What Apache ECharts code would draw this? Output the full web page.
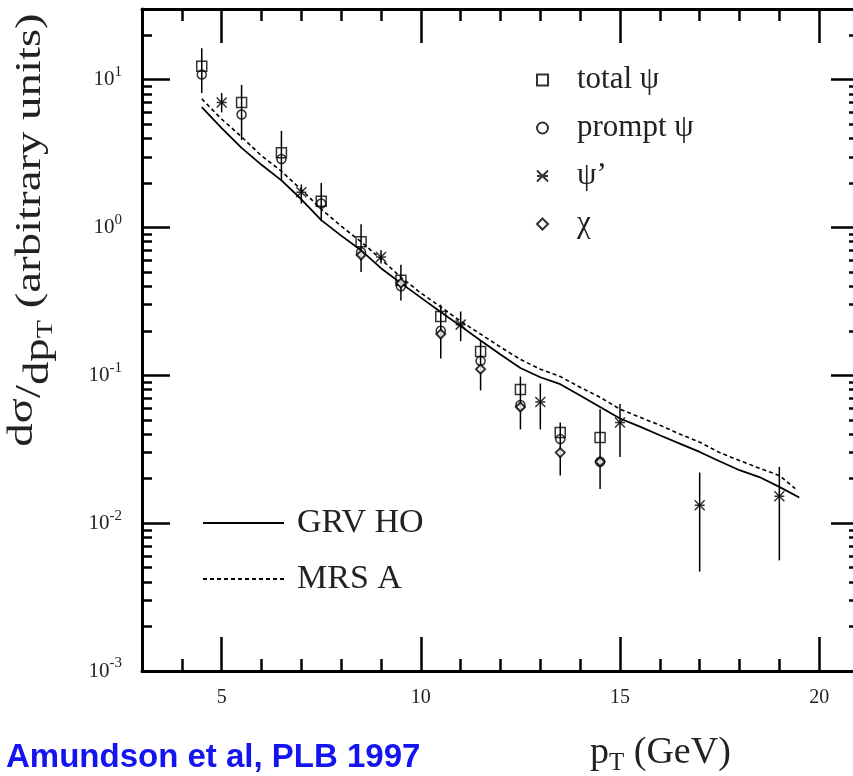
<!DOCTYPE html>
<html><head><meta charset="utf-8">
<script src="https://cdn.jsdelivr.net/npm/echarts@6/dist/echarts.min.js"></script>
<style>html,body{margin:0;padding:0;background:#fff;}#c{width:853px;height:776px;}</style>
</head><body><div id="c"></div><script>
// ---- tick values ----
const xMajor = [5, 10, 15, 20];
const xMinor = [4, 6, 7, 8, 9, 11, 12, 13, 14, 16, 17, 18, 19];
const yMajor = [0.001, 0.01, 0.1, 1, 10];
const yMinor = [0.002,0.003,0.004,0.005,0.006,0.007,0.008,0.009,
                0.02,0.03,0.04,0.05,0.06,0.07,0.08,0.09,
                0.2,0.3,0.4,0.5,0.6,0.7,0.8,0.9,
                2,3,4,5,6,7,8,9,20];
// ---- theory curves ----
const grvX = [4.5,5,5.5,6,6.5,7,7.5,8,8.5,9,9.5,10,10.5,11,11.5,12,12.5,13,13.5,14,14.5,15,15.5,16,16.5,17,17.5,18,18.5,19,19.5];
const grvY = [6.5,4.7,3.45,2.65,2.08,1.55,1.12,0.88,0.70,0.53,0.42,0.335,0.268,0.215,0.172,0.138,0.112,0.097,0.087,0.073,0.061,0.051,0.045,0.0393,0.0345,0.0303,0.0262,0.0228,0.0205,0.0176,0.0149];
const mrsX = [4.5,5,5.5,6,6.5,7,7.5,8,8.5,9,9.5,10,10.5,11,11.5,12,12.5,13,13.5,14,14.5,15,15.5,16,16.5,17,17.5,18,18.5,19,19.4];
const mrsY = [7.4,5.4,4.1,3.05,2.4,1.8,1.33,1.02,0.80,0.61,0.46,0.36,0.29,0.232,0.19,0.155,0.128,0.11,0.098,0.083,0.071,0.059,0.052,0.046,0.040,0.0353,0.030,0.0265,0.0235,0.021,0.0171];
// ---- data ----
const totalX  = [4.5,5.5,6.5,7.5,8.5,9.5,10.5,11.5,12.5,13.5,14.5];
const totalY  = [12.3,7.0,3.2,1.5,0.8,0.44,0.25,0.145,0.08,0.041,0.038];
const totalLo = [8.1,3.9,2.1,1.1,0.5,0.32,0.13,0.079,0.043,0.021,0.017];
const totalHi = [16.3,9.2,4.5,2.0,1.05,0.56,0.30,0.172,0.098,0.048,0.059];
const promptX = [4.5,5.5,6.5,7.5,8.5,9.5,10.5,11.5,12.5,13.5,14.5];
const promptY = [10.8,5.8,2.9,1.45,0.68,0.40,0.20,0.125,0.063,0.037,0.026];
const psi2X  = [5,7,9,11,13,15,17,19];
const psi2Y  = [7.0,1.73,0.63,0.22,0.066,0.048,0.0132,0.0152];
const psi2Lo = [6.0,1.45,0.57,0.17,0.043,0.028,0.0047,0.0056];
const psi2Hi = [8.1,1.95,0.70,0.27,0.088,0.064,0.022,0.024];
const chiX = [8.5,9.5,10.5,11.5,12.5,13.5,14.5];
const chiY = [0.65,0.42,0.19,0.11,0.061,0.030,0.026];

const zip = (a, b) => a.map((v, i) => [v, b[i]]);
const zip3 = (a, b, c) => a.map((v, i) => [v, b[i], c[i]]);

const SERIF = "'Liberation Serif', 'Times New Roman', serif";
const INK = '#000';

function xAx(pos, vals, len, line, label) {
  return {
    type: 'value', position: pos, min: 3, max: 21,
    axisLine: { show: line, lineStyle: { color: INK, width: 3 } },
    axisTick: { show: true, inside: true, length: len, customValues: vals, lineStyle: { color: INK, width: 2.5 } },
    axisLabel: label ? { show: true, customValues: vals, margin: 17, fontFamily: SERIF, fontSize: 20, color: '#222' } : { show: false },
    splitLine: { show: false }
  };
}
function yAx(pos, vals, len, line, label) {
  return {
    type: 'log', logBase: 10, position: pos, min: 0.001, max: 30,
    axisLine: { show: line, lineStyle: { color: INK, width: 3 } },
    axisTick: { show: true, inside: true, length: len, customValues: vals, lineStyle: { color: INK, width: 2.5 } },
    axisLabel: label ? {
      show: true, customValues: vals, margin: 20,
      formatter: v => '{b|10}{s|' + Math.round(Math.log10(v)) + '}',
      rich: {
        b: { fontFamily: SERIF, fontSize: 21, lineHeight: 30, color: '#222' },
        s: { fontFamily: SERIF, fontSize: 15, lineHeight: 15, verticalAlign: 'top', color: '#222' }
      }
    } : { show: false },
    splitLine: { show: false }
  };
}

function errRender(params, api) {
  const p1 = api.coord([api.value(0), api.value(1)]);
  const p2 = api.coord([api.value(0), api.value(2)]);
  return { type: 'line', shape: { x1: p1[0], y1: p1[1], x2: p2[0], y2: p2[1] },
           style: { stroke: INK, lineWidth: 1.5 } };
}

const markerStyle = { color: 'rgba(0,0,0,0)', borderColor: INK, borderWidth: 1.5 };
const starPath = 'path://M0,0L10,10M10,0L0,10M0,5L10,5';

const option = {
  animation: false,
  backgroundColor: '#fff',
  grid: { left: 142, right: -6, top: 9, bottom: 105, outerBoundsMode: 'none', containLabel: false },
  xAxis: [
    xAx('bottom', xMajor, 34, true, true),
    xAx('bottom', xMinor, 12, false, false),
    xAx('top', xMajor, 34, true, false),
    xAx('top', xMinor, 12, false, false)
  ],
  yAxis: [
    yAx('left', yMajor, 28, true, true),
    yAx('left', yMinor, 10, false, false),
    yAx('right', yMajor, 28, true, false),
    yAx('right', yMinor, 10, false, false)
  ],
  legend: [
    {
      orient: 'vertical', left: 531, top: 51, itemGap: 0, itemWidth: 11, itemHeight: 11,
      selectedMode: false,
      data: ['total ψ', 'prompt ψ', 'ψ’', 'χ'],
      textStyle: { fontFamily: SERIF, fontSize: 31, color: '#222', lineHeight: 48, padding: [0, 0, 0, 24] }
    },
    {
      orient: 'vertical', left: 197, top: 490, itemGap: 0, itemWidth: 81, itemHeight: 14,
      selectedMode: false,
      data: ['GRV HO', 'MRS A'],
      itemStyle: { color: 'rgba(0,0,0,0)', borderWidth: 0, opacity: 0 },
      textStyle: { fontFamily: SERIF, fontSize: 34, color: '#222', lineHeight: 56, padding: [0, 0, 0, 8] }
    }
  ],
  graphic: [
    {
      type: 'text', x: 31, y: 230, rotation: Math.PI / 2, scaleX: 1.3, scaleY: 1,
      style: {
        text: '{u|dσ}{a|/}{d|dp}{t|T}{a| (arbitrary units)}',
        align: 'center', verticalAlign: 'middle', fill: '#222',
        rich: {
          a: { fontFamily: SERIF, fontSize: 36, lineHeight: 52, fill: '#222' },
          u: { fontFamily: SERIF, fontSize: 36, lineHeight: 42, verticalAlign: 'top', fill: '#222' },
          d: { fontFamily: SERIF, fontSize: 36, lineHeight: 44, verticalAlign: 'bottom', fill: '#222' },
          t: { fontFamily: SERIF, fontSize: 23, lineHeight: 23, verticalAlign: 'bottom', fill: '#222' }
        }
      }
    },
    {
      type: 'text', x: 590, y: 753,
      style: {
        text: '{p|p}{t|T}{p| (GeV)}',
        align: 'left', verticalAlign: 'middle', fill: '#222',
        rich: {
          p: { fontFamily: SERIF, fontSize: 38, lineHeight: 46, fill: '#222' },
          t: { fontFamily: SERIF, fontSize: 25, lineHeight: 25, verticalAlign: 'bottom', fill: '#222' }
        }
      }
    },
    {
      type: 'text', x: 6, y: 758,
      style: {
        text: 'Amundson et al, PLB 1997',
        align: 'left', verticalAlign: 'middle', fill: '#1414f0',
        fontFamily: "'Liberation Sans', Arial, sans-serif", fontWeight: 'bold', fontSize: 33
      }
    }
  ],
  series: [
    { name: 'GRV HO', type: 'line', data: zip(grvX, grvY), symbol: 'none', smooth: false,
      lineStyle: { color: INK, width: 1.8 }, itemStyle: { color: INK }, z: 2 },
    { name: 'MRS A', type: 'line', data: zip(mrsX, mrsY), symbol: 'none', smooth: false,
      lineStyle: { color: INK, width: 1.6, type: [4, 3] }, itemStyle: { color: INK }, z: 2 },
    { name: 'err-total', type: 'custom', renderItem: errRender, data: zip3(totalX, totalLo, totalHi),
      encode: { x: 0, y: [1, 2] }, z: 3 },
    { name: 'err-psi2', type: 'custom', renderItem: errRender, data: zip3(psi2X, psi2Lo, psi2Hi),
      encode: { x: 0, y: [1, 2] }, z: 3 },
    { name: 'total ψ', type: 'scatter', data: zip(totalX, totalY), symbol: 'rect', symbolSize: 10,
      itemStyle: markerStyle, z: 4 },
    { name: 'prompt ψ', type: 'scatter', data: zip(promptX, promptY), symbol: 'circle', symbolSize: 9,
      itemStyle: markerStyle, z: 4 },
    { name: 'ψ’', type: 'scatter', data: zip(psi2X, psi2Y), symbol: starPath, symbolSize: 10,
      itemStyle: markerStyle, z: 4 },
    { name: 'χ', type: 'scatter', data: zip(chiX, chiY), symbol: 'diamond', symbolSize: 9,
      itemStyle: { color: '#fff', borderColor: INK, borderWidth: 2 }, z: 4 }
  ]
};

const chart = echarts.init(document.getElementById('c'), null, { renderer: 'canvas' });
chart.setOption(option);
</script></body></html>
